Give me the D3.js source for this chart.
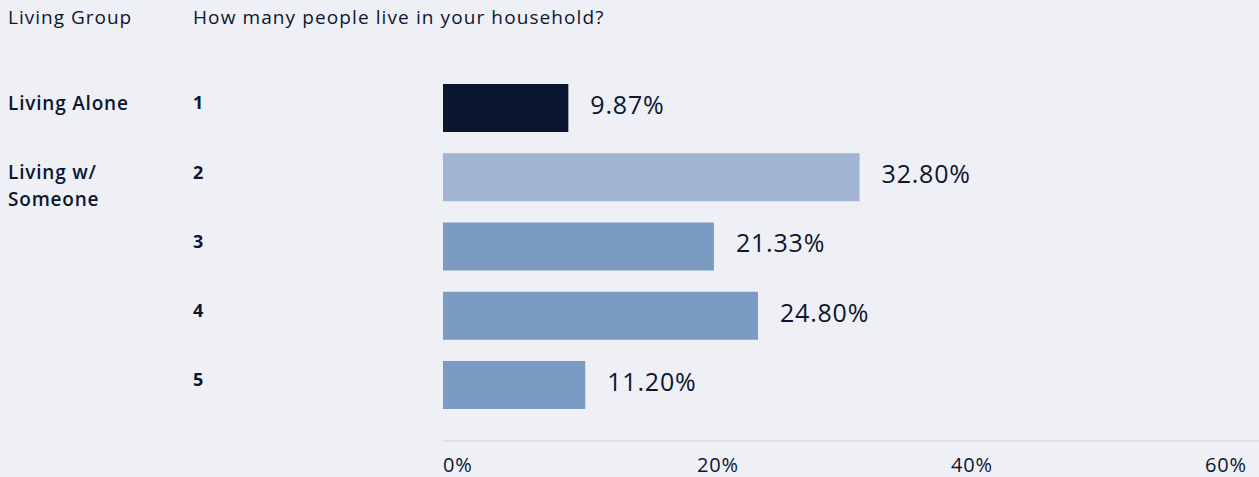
<!DOCTYPE html>
<html>
<head>
<meta charset="utf-8">
<script src="https://cdn.jsdelivr.net/npm/d3@7"></script>
<style>
  html, body { margin: 0; padding: 0; background: #eff0f5; }
  svg { display: block; }
  text { font-family: "Open Sans", "Noto Sans", sans-serif; fill: #0b1630; }
</style>
</head>
<body>
<svg id="chart" width="1259" height="477"></svg>
<script>
// Household size answers and their share of respondents (%)
const householdSizes = ["1", "2", "3", "4", "5"];
const shares = [9.87, 32.80, 21.33, 24.80, 11.20];
// Living group labels, each placed beside the first household size of its group
const groupLabels = [["Living Alone"], ["Living w/", "Someone"]];
const groupFirstSize = ["1", "2"];
// Axis ticks
const tickValues = [0, 20, 40, 60];
const tickLabels = ["0%", "20%", "40%", "60%"];

const W = 1259, H = 477;
const svg = d3.select("#chart");

const x = d3.scaleLinear().domain([0, 60]).range([443, 1205]);
const y = d3.scaleBand().domain(householdSizes).range([73.4, 419.6]).paddingInner(0.307).paddingOuter(0.153);

const fillFor = (d, i) => i === 0 ? "#0b1630" : (i === 1 ? "#a1b4d1" : "#7b9bc2");
const labelY = d => y(d) + y.bandwidth() / 2 - 5;

// Column headers
svg.append("text").attr("x", 8).attr("y", 24).attr("font-size", 19)
  .attr("letter-spacing", 1).text("Living Group");
svg.append("text").attr("x", 193).attr("y", 24).attr("font-size", 19)
  .attr("letter-spacing", 1.1).text("How many people live in your household?");

// Bars
svg.append("g").selectAll("rect").data(shares).join("rect")
  .attr("x", x(0))
  .attr("y", (d, i) => y(householdSizes[i]))
  .attr("width", d => x(d) - x(0))
  .attr("height", y.bandwidth())
  .attr("fill", fillFor);

// Value labels
svg.append("g").selectAll("text").data(shares).join("text")
  .attr("x", d => x(d) + 22)
  .attr("y", (d, i) => y(householdSizes[i]) + y.bandwidth() / 2 - 3)
  .attr("dy", "0.35em")
  .attr("font-size", 25)
  .attr("letter-spacing", 0.8)
  .text(d => d.toFixed(2) + "%");

// Household size labels
svg.append("g").selectAll("text").data(householdSizes).join("text")
  .attr("x", 193)
  .attr("y", labelY)
  .attr("dy", "0.35em")
  .attr("font-size", 18)
  .attr("font-weight", 700)
  .text(d => d);

// Living group labels
groupLabels.forEach((lines, gi) => {
  const t = svg.append("text").attr("x", 8).attr("y", labelY(groupFirstSize[gi]))
    .attr("font-size", 19).attr("font-weight", 600).attr("letter-spacing", 0.8);
  lines.forEach((ln, li) => t.append("tspan").attr("x", 8).attr("dy", li === 0 ? "0.35em" : 27).text(ln));
});

// Bottom axis
const axis = svg.append("g");
axis.append("line").attr("x1", x(0)).attr("x2", W).attr("y1", 441).attr("y2", 441)
  .attr("stroke", "#dfe0e6").attr("stroke-width", 2);
axis.selectAll("text.tick").data(tickValues).join("text")
  .attr("class", "tick")
  .attr("x", d => x(d))
  .attr("y", 472)
  .attr("font-size", 20)
  .attr("letter-spacing", 0.8)
  .text((d, i) => tickLabels[i]);
</script>
</body>
</html>
